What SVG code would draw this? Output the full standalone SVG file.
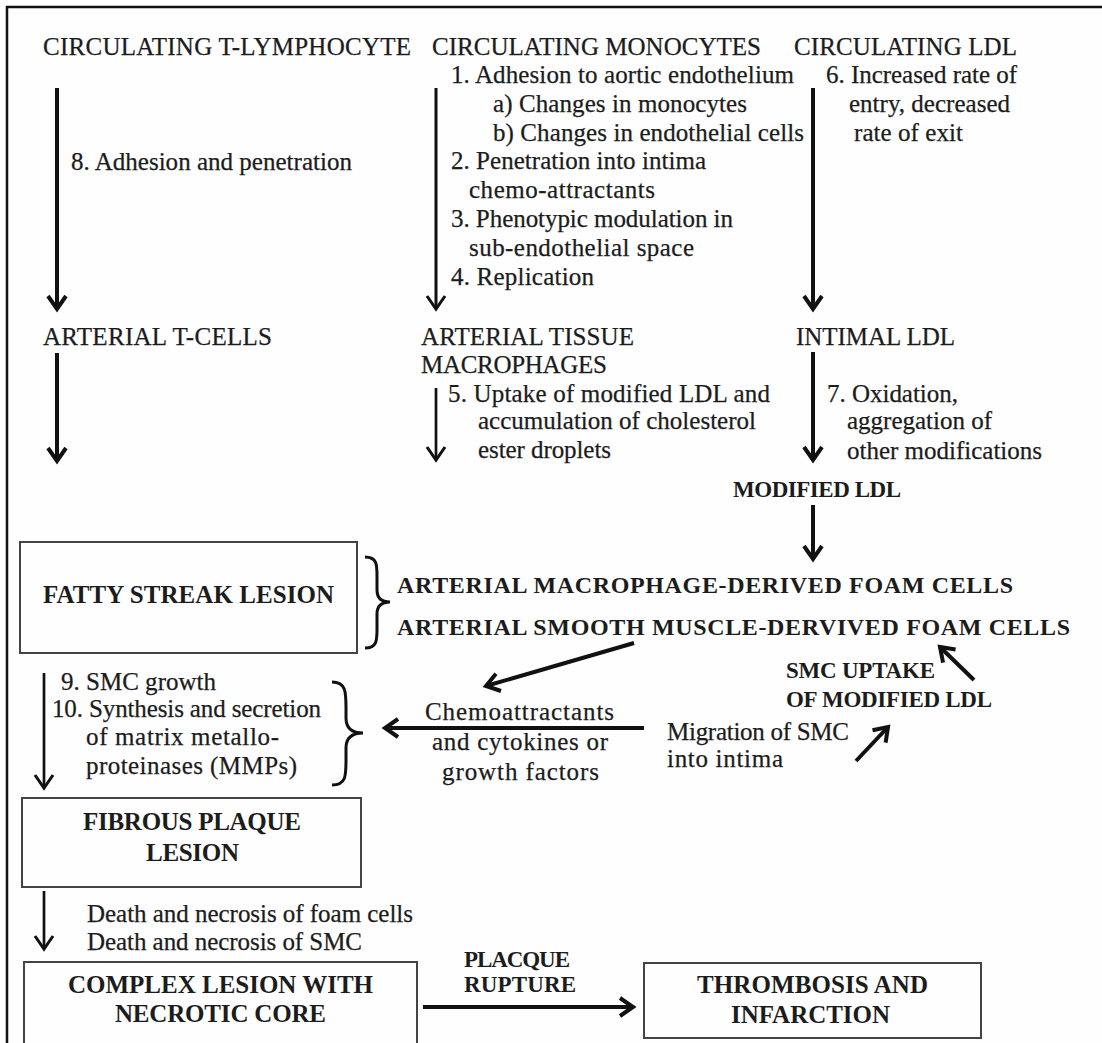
<svg xmlns="http://www.w3.org/2000/svg" width="1102" height="1043" viewBox="0 0 1102 1043">
<style>
  .t{font-family:"Liberation Serif","Times New Roman",serif;font-size:25px;fill:#1c1c1c;stroke:#1c1c1c;stroke-width:0.25}
  .b{font-family:"Liberation Serif","Times New Roman",serif;font-size:24px;font-weight:bold;fill:#1c1c1c}
  .box{fill:none;stroke:#444;stroke-width:2}
  .thick{stroke:#111;stroke-width:4;fill:none}
  .thin{stroke:#111;stroke-width:2.7;fill:none}
  .brace{stroke:#111;stroke-width:3;fill:none}
</style>
<defs>
  <marker id="ah" markerUnits="userSpaceOnUse" markerWidth="40" markerHeight="40" viewBox="-20 -20 40 40" refX="0" refY="0" orient="auto" overflow="visible">
    <path d="M-13,-9 L0,0 L-13,9" fill="none" stroke="#111" stroke-width="4"/>
  </marker>
  <marker id="ahs" markerUnits="userSpaceOnUse" markerWidth="40" markerHeight="40" viewBox="-20 -20 40 40" refX="0" refY="0" orient="auto" overflow="visible">
    <path d="M-13,-9 L0,0 L-13,9" fill="none" stroke="#111" stroke-width="3"/>
  </marker>
</defs>
<rect width="1102" height="1043" fill="#fefefe"/>
<g id="frame">
  <path d="M7,1043 L7,7 L1102,7" fill="none" stroke="#111" stroke-width="2.5"/>
</g>

<g id="connectors">
  <line class="thick" x1="57" y1="88" x2="57" y2="309" marker-end="url(#ah)"/>
  <line class="thin" x1="436" y1="88" x2="436" y2="309" marker-end="url(#ahs)" style="stroke-width:3"/>
  <line class="thick" x1="813" y1="88" x2="813" y2="309" marker-end="url(#ah)"/>
  <line class="thick" x1="57" y1="353" x2="57" y2="461" marker-end="url(#ah)"/>
  <line class="thin" x1="436" y1="388" x2="436" y2="460" marker-end="url(#ahs)"/>
  <line class="thick" x1="813" y1="352" x2="813" y2="460" marker-end="url(#ah)"/>
  <line class="thick" x1="813" y1="505" x2="813" y2="559" marker-end="url(#ah)"/>
  <line class="thick" x1="634" y1="643" x2="486" y2="686" marker-end="url(#ah)"/>
  <line class="thick" x1="644" y1="728" x2="385" y2="728" marker-end="url(#ah)"/>
  <line class="thick" x1="856" y1="761" x2="888" y2="727" marker-end="url(#ah)"/>
  <line class="thick" x1="974" y1="680" x2="940" y2="647" marker-end="url(#ah)"/>
  <line class="thin" x1="44" y1="673" x2="44" y2="788" marker-end="url(#ahs)"/>
  <line class="thin" x1="44" y1="891" x2="44" y2="949" marker-end="url(#ahs)"/>
  <line class="thick" x1="423" y1="1007" x2="633" y2="1007" marker-end="url(#ah)"/>
  <path class="brace" d="M365,557 C378,557 377,566 377,580 L377,590 C377,598 381,602 390,602 C381,602 377,606 377,614 L377,625 C377,639 378,648 365,648"/>
  <path class="brace" d="M332,682 C346,682 346,692 346,708 L346,718 C346,728 352,733 363,733 C352,733 346,738 346,748 L346,760 C346,776 346,785 332,785"/>
</g>

<g id="n-tlymph"><text class="t" x="43" y="55" textLength="368">CIRCULATING T-LYMPHOCYTE</text></g>
<g id="n-mono"><text class="t" x="432" y="55" textLength="329">CIRCULATING MONOCYTES</text></g>
<g id="n-ldl"><text class="t" x="794" y="55" textLength="223">CIRCULATING LDL</text></g>

<g id="l-mono">
  <text class="t" x="451" y="83" textLength="343">1. Adhesion to aortic endothelium</text>
  <text class="t" x="493" y="112" textLength="254">a) Changes in monocytes</text>
  <text class="t" x="493" y="141" textLength="311">b) Changes in endothelial cells</text>
  <text class="t" x="451" y="169" textLength="255">2. Penetration into intima</text>
  <text class="t" x="469" y="198" textLength="186">chemo-attractants</text>
  <text class="t" x="451" y="227" textLength="282">3. Phenotypic modulation in</text>
  <text class="t" x="469" y="256" textLength="225">sub-endothelial space</text>
  <text class="t" x="451" y="285" textLength="143">4. Replication</text>
</g>
<g id="l-ldl">
  <text class="t" x="826" y="83" textLength="191">6. Increased rate of</text>
  <text class="t" x="849" y="112" textLength="161">entry, decreased</text>
  <text class="t" x="854" y="141" textLength="109">rate of exit</text>
</g>
<g id="l-t"><text class="t" x="71" y="170" textLength="281">8. Adhesion and penetration</text></g>

<g id="n-tcells"><text class="t" x="43" y="345" textLength="229">ARTERIAL T-CELLS</text></g>
<g id="n-macro">
  <text class="t" x="421" y="345" textLength="213">ARTERIAL TISSUE</text>
  <text class="t" x="421" y="373" textLength="186">MACROPHAGES</text>
</g>
<g id="n-intimal"><text class="t" x="796" y="345" textLength="159">INTIMAL LDL</text></g>

<g id="l-macro">
  <text class="t" x="448" y="402" textLength="322">5. Uptake of modified LDL and</text>
  <text class="t" x="478" y="429" textLength="278">accumulation of cholesterol</text>
  <text class="t" x="478" y="458" textLength="133">ester droplets</text>
</g>
<g id="l-intimal">
  <text class="t" x="827" y="402" textLength="131">7. Oxidation,</text>
  <text class="t" x="847" y="429" textLength="145">aggregation of</text>
  <text class="t" x="847" y="459" textLength="195">other modifications</text>
</g>

<g id="n-modldl"><text class="b" x="733" y="497" textLength="168" style="font-size:23px">MODIFIED LDL</text></g>

<g id="n-fatty">
  <rect class="box" x="20" y="542" width="337" height="111"/>
  <text class="b" x="43" y="603" textLength="291" style="font-size:25px">FATTY STREAK LESION</text>
</g>
<g id="n-foam">
  <text class="b" x="397" y="593" textLength="616">ARTERIAL MACROPHAGE-DERIVED FOAM CELLS</text>
  <text class="b" x="397" y="635" textLength="673">ARTERIAL SMOOTH MUSCLE-DERVIVED FOAM CELLS</text>
</g>

<g id="l-smc">
  <text class="t" x="61" y="690" textLength="155">9. SMC growth</text>
  <text class="t" x="52" y="717" textLength="269">10. Synthesis and secretion</text>
  <text class="t" x="86" y="745" textLength="193">of matrix metallo-</text>
  <text class="t" x="86" y="774" textLength="211">proteinases (MMPs)</text>
</g>
<g id="l-chemo">
  <text class="t" x="425" y="720" textLength="189">Chemoattractants</text>
  <text class="t" x="432" y="750" textLength="176">and cytokines or</text>
  <text class="t" x="442" y="780" textLength="157">growth factors</text>
</g>
<g id="l-migr">
  <text class="t" x="667" y="740" textLength="182">Migration of SMC</text>
  <text class="t" x="667" y="767" textLength="116">into intima</text>
</g>
<g id="n-smcuptake">
  <text class="b" x="786" y="678" textLength="149" style="font-size:23px">SMC UPTAKE</text>
  <text class="b" x="786" y="707" textLength="206" style="font-size:23px">OF MODIFIED LDL</text>
</g>

<g id="n-fibrous">
  <rect class="box" x="22" y="798" width="339" height="89"/>
  <text class="b" x="83" y="830" textLength="218" style="font-size:25px">FIBROUS PLAQUE</text>
  <text class="b" x="146" y="861" textLength="93" style="font-size:25px">LESION</text>
</g>
<g id="l-death">
  <text class="t" x="87" y="922" textLength="326">Death and necrosis of foam cells</text>
  <text class="t" x="87" y="950" textLength="275">Death and necrosis of SMC</text>
</g>
<g id="n-complex">
  <rect class="box" x="24" y="962" width="393" height="95"/>
  <text class="b" x="68" y="993" textLength="305" style="font-size:25px">COMPLEX LESION WITH</text>
  <text class="b" x="115" y="1022" textLength="211" style="font-size:25px">NECROTIC CORE</text>
</g>
<g id="l-rupture">
  <text class="b" x="464" y="967" textLength="106" style="font-size:23px">PLACQUE</text>
  <text class="b" x="464" y="992" textLength="112" style="font-size:23px">RUPTURE</text>
</g>
<g id="n-thrombosis">
  <rect class="box" x="644" y="963" width="337" height="75"/>
  <text class="b" x="697" y="993" textLength="231" style="font-size:25px">THROMBOSIS AND</text>
  <text class="b" x="731" y="1023" textLength="159" style="font-size:25px">INFARCTION</text>
</g>
</svg>
